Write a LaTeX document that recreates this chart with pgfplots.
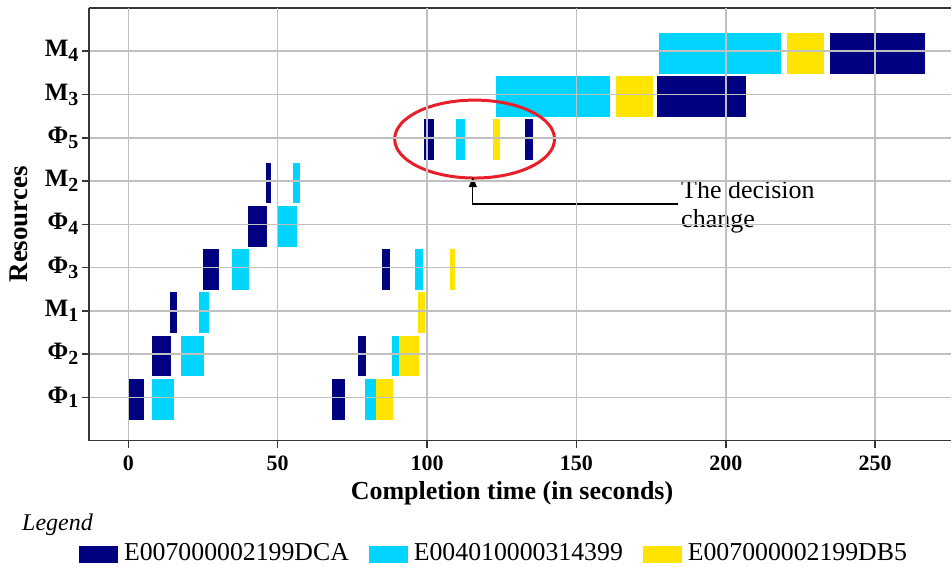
\documentclass[border=0pt]{standalone}
\usepackage{fontspec}
\setmainfont{Liberation Serif}
\usepackage{pgfplots}
\pgfplotsset{compat=1.18}
\usetikzlibrary{arrows.meta}

\definecolor{dca}{RGB}{0,0,128}
\definecolor{cyn}{RGB}{0,212,255}
\definecolor{ylw}{RGB}{255,228,0}
\definecolor{axisgray}{RGB}{55,55,55}
\definecolor{gridgray}{RGB}{192,192,192}
\definecolor{ringred}{RGB}{232,30,40}

% each bar is a thick segment (start,row) -- (end,row); rows: 1 Phi1 ... 9 M4
\pgfplotsset{gantt/.style={line width=40.7pt, unbounded coords=jump, yshift=-2pt}}
% resource name with a large, low subscript
\newcommand{\res}[2]{#1{\fontsize{20}{20}\selectfont\raisebox{-5pt}{#2}}}

\begin{document}
\begin{tikzpicture}
\begin{axis}[
  width=863pt, height=433pt, scale only axis,
  xmin=-13.2, xmax=275.4, ymin=0, ymax=10,
  axis lines*=left,
  axis line style={axisgray, line width=1.8pt},
  xtick={0,50,...,250}, ytick={1,...,9},
  yticklabels={\res{Φ}{1}, \res{Φ}{2}, \res{M}{1}, \res{Φ}{3}, \res{Φ}{4},
    \res{M}{2}, \res{Φ}{5}, \res{M}{3}, \res{M}{4}},
  grid=major, major grid style={gridgray, line width=1.5pt},
  tick style={axisgray, line width=1.5pt},
  tick align=outside, major tick length=7pt,
  tick label style={font=\bfseries\fontsize{22}{26}\selectfont},
  yticklabel style={font=\bfseries\fontsize{25}{28}\selectfont},
  xticklabel style={yshift=-5pt},
  /pgf/number format/assume math mode=true,
  xlabel={Completion time (in seconds)}, ylabel={Resources},
  label style={font=\bfseries\fontsize{26}{30}\selectfont},
  ylabel style={font=\bfseries\fontsize{27}{30}\selectfont},
  xlabel style={xshift=-8pt},
  xlabel shift=4pt, ylabel shift=10pt,
  axis on top, clip=false,
  legend style={at={(axis description cs:0,0)}, anchor=west, xshift=-10pt, yshift=-112pt,
    draw=none, fill=none, legend columns=3, inner sep=0pt,
    nodes={inner sep=2pt}, font=\fontsize{25.8}{28}\selectfont,
    /tikz/every odd column/.append style={column sep=4pt},
    /tikz/every even column/.append style={column sep=18pt}},
  legend cell align=left,
  legend image code/.code={\fill[#1, draw=none] (0pt,-8.5pt) rectangle (39pt,8.5pt);},
]
\addplot[gantt, dca] coordinates {
  (0,1) (5.3,1) (nan,nan) (68,1) (72.5,1) (nan,nan)
  (7.8,2) (14.4,2) (nan,nan) (76.9,2) (79.6,2) (nan,nan)
  (14,3) (16.3,3) (nan,nan)
  (25,4) (30.3,4) (nan,nan) (84.8,4) (87.6,4) (nan,nan)
  (40,5) (46.5,5) (nan,nan)
  (46,6) (47.6,6) (nan,nan)
  (98.9,7) (102.2,7) (nan,nan) (132.8,7) (135.4,7) (nan,nan)
  (177,8) (206.6,8) (nan,nan)
  (235,9) (266.7,9)
};
\addlegendentry{E007000002199DCA}
\addplot[gantt, cyn] coordinates {
  (7.8,1) (15.3,1) (nan,nan) (79.1,1) (82.9,1) (nan,nan)
  (17.6,2) (25.2,2) (nan,nan) (88.2,2) (90.5,2) (nan,nan)
  (23.7,3) (27.1,3) (nan,nan)
  (34.7,4) (40.3,4) (nan,nan) (96.1,4) (98.5,4) (nan,nan)
  (50.2,5) (56.4,5) (nan,nan)
  (55,6) (57.4,6) (nan,nan)
  (109.6,7) (112.7,7) (nan,nan)
  (123,8) (161.2,8) (nan,nan)
  (177.7,9) (218.4,9)
};
\addlegendentry{E004010000314399}
\addplot[gantt, ylw] coordinates {
  (82.9,1) (88.5,1) (nan,nan)
  (90.5,2) (97.4,2) (nan,nan)
  (97,3) (99.4,3) (nan,nan)
  (107.8,4) (109.5,4) (nan,nan)
  (122.1,7) (124.5,7) (nan,nan)
  (163.3,8) (175.5,8) (nan,nan)
  (220.6,9) (232.7,9)
};
\addlegendentry{E007000002199DB5}

% top border (the right one lies outside the picture)
\draw[axisgray, line width=1.8pt] (rel axis cs:0,1) -- (rel axis cs:1,1);
% annotation
\draw[ringred, line width=3pt] (axis cs:115.9,6.97) ellipse [x radius=80pt, y radius=39pt];
\draw[line width=1.3pt, -{Triangle[length=10pt,width=8pt]}]
  (axis cs:184,5.467) -- (axis cs:115.3,5.467) -- (axis cs:115.3,6.09);
\node[anchor=north west, align=left, inner sep=0pt, font=\fontsize{26}{29}\selectfont]
  at (axis cs:185,6.02) {The decision\\change};
\node[anchor=base west, inner sep=0pt, font=\itshape\fontsize{24}{28}\selectfont]
  at ([xshift=-67pt,yshift=-90pt]rel axis cs:0,0) {Legend};
% page frame of the reference
\path (rel axis cs:0,0) ++(-89pt,-126pt) (rel axis cs:1,1) ++(0pt,8pt);
\end{axis}
\end{tikzpicture}
\end{document}
